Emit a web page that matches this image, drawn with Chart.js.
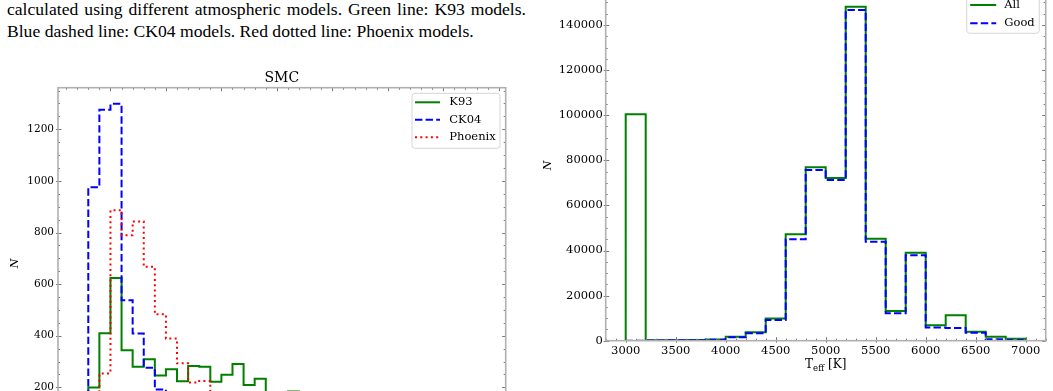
<!DOCTYPE html>
<html><head><meta charset="utf-8">
<script src="https://cdn.jsdelivr.net/npm/chart.js@4"></script>
<style>
html,body{margin:0;padding:0;width:1053px;height:391px;overflow:hidden;background:#fff;}
.cap{position:absolute;left:7px;font-family:'Liberation Serif','Times New Roman',serif;font-size:17.6px;line-height:21.8px;color:#000;white-space:nowrap;}
#cap1{top:-1.2px;width:519px;text-align:justify;text-align-last:justify;}
#cap2{top:20.6px;}
#c1{position:absolute;left:0;top:50px;}
#c2{position:absolute;left:530px;top:-20px;}
</style></head><body>
<div class="cap" id="cap1">calculated using different atmospheric models. Green line: K93 models.</div>
<div class="cap" id="cap2">Blue dashed line: CK04 models. Red dotted line: Phoenix models.</div>
<canvas id="c1" width="530" height="460"></canvas>
<canvas id="c2" width="523" height="411"></canvas>
<script>
// ---------- SMC panel (left) ----------
const smcBinEdges = [3700,3800,3900,4000,4100,4200,4300,4400,4500,4600,4700,4800,4900,5000,5100,5200,5300,5400,5500,5600,5700,5800,5900,6000,6100,6200,6300];
const smcK93     = [40, 200, 410, 624, 344, 280, 309, 246, 270, 224, 283, 280, 222, 249, 291, 209, 233, 160, 140, 184, 120, 95, 70, 50, 35, 20];
const smcCK04    = [150, 975, 1276, 1299, 538, 409, 276, 192, 130, 90, 60, 40, 30, 20, 15, 10, 8, 6, 5, 4, 3, 2, 2, 1, 1, 0];
const smcPhoenix = [10, 90, 254, 886, 789, 843, 667, 483, 389, 293, 219, 225, 150, 120, 90, 70, 50, 40, 30, 20, 15, 10, 8, 5, 3, 2];
const smcLabels  = ['K93', 'CK04', 'Phoenix'];
const smcXTicks  = [4000, 4500, 5000, 5500, 6000, 6500, 7000, 7500];
const smcYTicks  = [0, 200, 400, 600, 800, 1000, 1200];

// ---------- Teff panel (right) ----------
const teffBinEdges = [3000,3200,3400,3600,3800,4000,4200,4400,4600,4800,5000,5200,5400,5600,5800,6000,6200,6400,6600,6800,7000];
const allCounts  = [100400, 150, 200, 300, 500, 1800, 3700, 9900, 47200, 76900, 72200, 148100, 45200, 13200, 39000, 6800, 11300, 4000, 1700, 900];
const goodCounts = [0, 100, 150, 250, 400, 1500, 3300, 9200, 45000, 75700, 71300, 146700, 43900, 12200, 37900, 5900, 5600, 3500, 600, 300];
const teffLabels = ['All', 'Good'];
const teffXTicks = [3000, 3500, 4000, 4500, 5000, 5500, 6000, 6500, 7000];
const teffYTicks = [0, 20000, 40000, 60000, 80000, 100000, 120000, 140000];

function outline(edges, counts) {
  const pts = [{x: edges[0], y: 0}];
  counts.forEach((c, i) => { pts.push({x: edges[i], y: c}); pts.push({x: edges[i + 1], y: c}); });
  pts.push({x: edges[counts.length], y: 0});
  return pts;
}
const fixTicks = list => scale => { scale.ticks = list.map(v => ({value: v})); };

const decor = {
  id: 'decor',
  afterDraw(chart, args, o) {
    const ctx = chart.ctx, a = chart.chartArea, xs = chart.scales.x, ys = chart.scales.y;
    ctx.save();
    const seg = (x1, y1, x2, y2) => { ctx.beginPath(); ctx.moveTo(x1, y1); ctx.lineTo(x2, y2); ctx.stroke(); };
    const vals = (s, step) => { const out = []; const s0 = Math.ceil(s.min / step); for (let i = s0; i * step <= s.max + 1e-9; i++) out.push(i * step); return out; };
    const majX = xs.ticks.map(t => t.value), majY = ys.ticks.map(t => t.value);
    const isMaj = (arr, v) => arr.some(m => Math.abs(m - v) < 1e-6);
    ctx.strokeStyle = o.tickColor; ctx.lineWidth = 1;
    vals(xs, o.xMinor).forEach(v => {
      const p = Math.round(xs.getPixelForValue(v)) + 0.5;
      const M = isMaj(majX, v); const L = M ? o.majLen : o.minLen;
      seg(p, a.bottom + (M ? 2 : 0), p, a.bottom - L); seg(p, a.top, p, a.top + L);
    });
    vals(ys, o.yMinor).forEach(v => {
      const p = Math.round(ys.getPixelForValue(v)) + 0.5;
      const M = isMaj(majY, v); const L = M ? o.majLen : o.minLen;
      seg(a.left - (M ? 2 : 0), p, a.left + L, p); seg(a.right, p, a.right - L, p);
    });
    ctx.strokeStyle = o.frameColor; ctx.lineWidth = o.frameWidth;
    ctx.strokeRect(a.left, a.top, a.right - a.left, a.bottom - a.top);
    ctx.fillStyle = '#000';
    if (o.title) {
      ctx.font = o.title.font; ctx.textAlign = 'center'; ctx.textBaseline = 'middle';
      ctx.fillText(o.title.text, (a.left + a.right) / 2, a.top + o.title.dy);
    }
    if (o.xlabel) {
      const X = o.xlabel; ctx.textBaseline = 'alphabetic'; ctx.textAlign = 'left';
      ctx.font = X.font; const w1 = ctx.measureText(X.main).width;
      ctx.font = X.subFont; const w2 = ctx.measureText(X.sub).width;
      ctx.font = X.font; const w3 = ctx.measureText(X.rest).width;
      let x0 = (a.left + a.right) / 2 - (w1 + w2 + w3) / 2; const y0 = a.bottom + X.dy;
      ctx.fillText(X.main, x0, y0); x0 += w1;
      ctx.font = X.subFont; ctx.fillText(X.sub, x0, y0 + X.subDy); x0 += w2;
      ctx.font = X.font; ctx.fillText(X.rest, x0, y0);
    }
    if (o.legend) {
      const L = o.legend;
      const bx = a.right - L.right - L.w, by = a.top + L.top;
      ctx.beginPath(); ctx.roundRect(bx, by, L.w, L.h, 3);
      ctx.globalAlpha = 0.8; ctx.fillStyle = '#fff'; ctx.fill(); ctx.globalAlpha = 1;
      ctx.strokeStyle = '#d6d6d6'; ctx.lineWidth = 1; ctx.stroke();
      L.items.forEach((idx, i) => {
        const ds = chart.data.datasets[idx];
        const yy = by + L.first + i * L.row;
        ctx.strokeStyle = ds.borderColor; ctx.lineWidth = ds.borderWidth;
        ctx.setLineDash(ds.borderDash || []);
        seg(bx + L.sx, yy, bx + L.sx + L.sl, yy);
        ctx.setLineDash([]);
        ctx.fillStyle = '#000'; ctx.font = L.font; ctx.textAlign = 'left'; ctx.textBaseline = 'middle';
        ctx.fillText(ds.label, bx + L.tx, yy);
      });
    }
    ctx.restore();
  }
};

const serif = 'DejaVu Serif';
const noGrid = {display: false, drawTicks: false, tickLength: 0};
const fmt = v => String(v);

new Chart(document.getElementById('c1'), {
  type: 'line',
  plugins: [decor],
  data: {datasets: [
    {label: smcLabels[0], data: outline(smcBinEdges, smcK93), borderColor: '#008000', borderWidth: 2, pointRadius: 0, fill: false, order: 3},
    {label: smcLabels[1], data: outline(smcBinEdges, smcCK04), borderColor: '#0000ff', borderWidth: 2, borderDash: [7.4, 3.2], pointRadius: 0, fill: false, order: 2},
    {label: smcLabels[2], data: outline(smcBinEdges, smcPhoenix), borderColor: '#ff0000', borderWidth: 2, borderDash: [2, 3.3], pointRadius: 0, fill: false, order: 1}
  ]},
  options: {
    responsive: false, animation: false, devicePixelRatio: 1,
    layout: {padding: {left: 0, right: 24.3, top: 37.7, bottom: 31}},
    plugins: {
      legend: {display: false}, tooltip: {enabled: false},
      decor: {
        tickColor: '#777', frameColor: '#b0b0b0', frameWidth: 1.6, majLen: 3.5, minLen: 2,
        xMinor: 100, yMinor: 50,
        title: {text: 'SMC', font: '14px "DejaVu Serif"', dy: -9.7},
        legend: {right: 5.7, top: 5.6, w: 88, h: 55, first: 9, row: 17.5, sx: 3, sl: 25, tx: 37.3, font: '11.5px "DejaVu Serif"', items: [0, 1, 2]}
      }
    },
    scales: {
      x: {type: 'linear', min: 3527, max: 7563, afterFit: s => { s.height = 40; }, afterBuildTicks: fixTicks(smcXTicks), grid: noGrid, border: {display: false},
          ticks: {padding: 5, maxRotation: 0, autoSkip: false, color: '#000', font: {family: serif, size: 10.5}, callback: fmt}},
      y: {type: 'linear', min: 0, max: 1361, afterFit: s => { s.width = 58; }, afterBuildTicks: fixTicks(smcYTicks), grid: noGrid, border: {display: false},
          ticks: {padding: 4, autoSkip: false, color: '#000', font: {family: serif, size: 10.5}, callback: fmt},
          title: {display: true, text: 'N', color: '#000', font: {family: serif, style: 'italic', size: 11}, padding: {top: 8.4, bottom: 0}}}
    }
  }
});

new Chart(document.getElementById('c2'), {
  type: 'line',
  plugins: [decor],
  data: {datasets: [
    {label: teffLabels[0], data: outline(teffBinEdges, allCounts), borderColor: '#008000', borderWidth: 2, pointRadius: 0, fill: false, order: 2},
    {label: teffLabels[1], data: outline(teffBinEdges, goodCounts), borderColor: '#0000ff', borderWidth: 2, borderDash: [7.4, 3.2], pointRadius: 0, fill: false, order: 1}
  ]},
  options: {
    responsive: false, animation: false, devicePixelRatio: 1,
    layout: {padding: {left: 0, right: 7.3, top: 10.3, bottom: 10}},
    plugins: {
      legend: {display: false}, tooltip: {enabled: false},
      decor: {
        tickColor: '#777', frameColor: '#b0b0b0', frameWidth: 1.6, majLen: 3.5, minLen: 2,
        xMinor: 100, yMinor: 5000,
        xlabel: {main: 'T', sub: 'eff', rest: ' [K]', font: '12px "DejaVu Serif"', subFont: '8.5px "DejaVu Serif"', dy: 27.3, subDy: 2.7},
        legend: {right: 6.4, top: 5, w: 72.6, h: 38, first: 9.7, row: 18.3, sx: 3.5, sl: 26, tx: 37.6, font: '11.5px "DejaVu Serif"', items: [0, 1]}
      }
    },
    scales: {
      x: {type: 'linear', min: 2800, max: 7200, afterFit: s => { s.height = 40.3; }, afterBuildTicks: fixTicks(teffXTicks), grid: noGrid, border: {display: false},
          ticks: {padding: 3, maxRotation: 0, autoSkip: false, color: '#000', font: {family: serif, size: 11.5}, callback: fmt}},
      y: {type: 'linear', min: 0, max: 155400, afterFit: s => { s.width = 75.7; }, afterBuildTicks: fixTicks(teffYTicks), grid: noGrid, border: {display: false},
          ticks: {padding: 3, autoSkip: false, color: '#000', font: {family: serif, size: 11.5}, callback: fmt},
          title: {display: true, text: 'N', color: '#000', font: {family: serif, style: 'italic', size: 11}, padding: {top: 11.7, bottom: 0}}}
    }
  }
});
</script>
</body></html>
